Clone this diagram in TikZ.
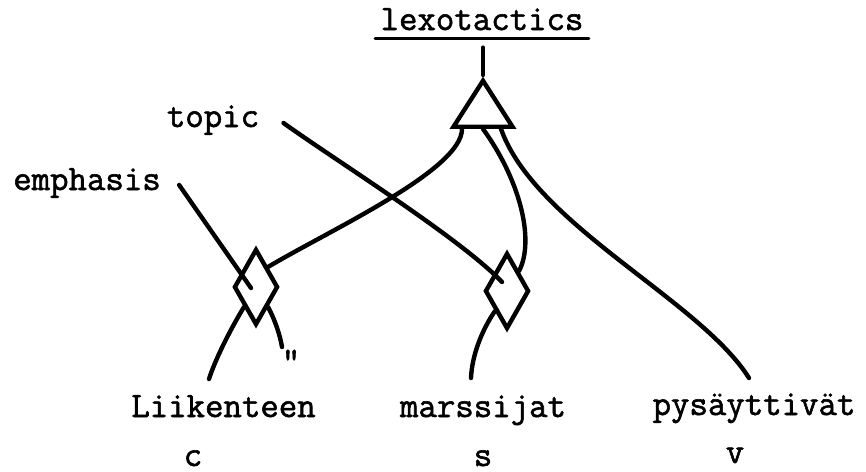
\documentclass[tikz,border=0pt]{standalone}
\usepackage{fontspec}
\newfontfamily\typewriter{Latin Modern Mono}[FakeBold=1.6]
\usepackage{tikz}
\usetikzlibrary{positioning,shapes.geometric,calc}

\begin{document}
\begin{tikzpicture}[
x=0.5pt, y=-0.5pt,
font=\fontsize{17.9}{20}\selectfont\typewriter,
word/.style={inner sep=0pt, anchor=base},
gate/.style={draw, diamond, line width=2.2pt, inner sep=0pt, minimum width=22pt, minimum height=38pt},
andgate/.style={draw, isosceles triangle, isosceles triangle stretches, shape border rotate=90, line width=2.2pt, inner sep=0pt, minimum width=29.5pt, minimum height=23pt},
link/.style={line width=2.2pt, line cap=round}
]
\useasboundingbox (0,0) rectangle (866,471);

% labels
\node[word, inner xsep=2.5pt, inner ysep=4pt] (lex) at (482,30) {lexotactics};
\node[word] (topic) at (213,127) {topic};
\node[word] (emph) at (87,190) {emphasis};
\node[word] (liik) at (223.5,417) {Liikenteen};
\node[word] (mars) at (483,417) {marssijat};
\node[word] (pys) at (754,415) {pysäyttivät};
\node[word] (c) at (193,466) {c};
\node[word] (s) at (483,466) {s};
\node[word] (v) at (735,463) {v};
\node[word] (ditto) at (291,372) {"};

% nodes
\node[andgate, anchor=apex] (tri) at (483,75) {};
\node[gate] (dl) at (256,287) {};
\node[gate] (dr) at (507,291) {};

\draw[link, line width=1.6pt] (lex.south west) -- (lex.south east);
\draw[link] ($(lex.south)+(1,9)$) -- (tri.apex);

% lines
\draw[link] ($(emph.base east)+(18,-5)$) -- ($(dl.center)+(-5,1)$);
\draw[link] ($(topic.base east)+(24,-4)$) .. controls (335,160) and (460,238) .. ($(dr.center)+(-5,-9)$);
\draw[link] ($(tri.lower side)+(-21,0)$) .. controls (462,170) and (330,230) .. (dl.north east);
\draw[link] (tri.lower side) .. controls (520,180) and (535,240) .. (dr.north east);
\draw[link] ($(tri.lower side)+(18,0)$) .. controls (535,225) and (700,300) .. ($(pys.base)+(-5,-37)$);
\draw[link] (dl.south west) .. controls (230,330) and (215,360) .. ($(liik.base)+(-14.5,-38)$);
\draw[link] (dl.south east) .. controls (275,320) and (280,335) .. ($(ditto.base)+(-9,-25)$);
\draw[link] (dr.south west) .. controls (482,330) and (472,355) .. ($(mars.base)+(-12,-39)$);
\end{tikzpicture}
\end{document}
